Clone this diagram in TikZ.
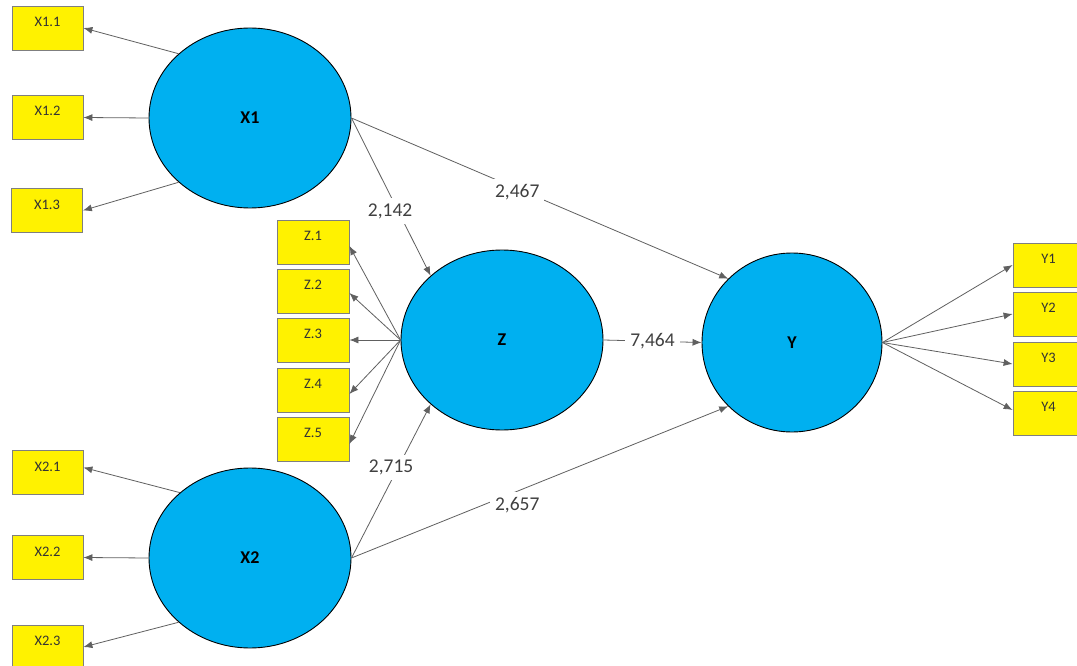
\documentclass[tikz,border=0pt]{standalone}
\usepackage{fontspec}
\setmainfont{Carlito}
\usetikzlibrary{shapes.geometric,arrows.meta}
\definecolor{latent}{HTML}{00B0F0}
\definecolor{edgegray}{HTML}{606060}
\definecolor{labgray}{HTML}{404040}
\definecolor{boxborder}{HTML}{7F7F7F}
\tikzset{
  lv/.style={ellipse,draw=black,line width=0.9pt,fill=latent,inner sep=0pt,
    minimum width=202pt,minimum height=180pt,font=\fontsize{18}{18}\selectfont\bfseries},
  mv/.style={rectangle,draw=boxborder,line width=0.8pt,fill=yellow,inner sep=0pt,
    minimum width=71pt,minimum height=44pt,text height=9.5pt,text depth=12.5pt,
    font=\fontsize{14.5}{14.5}\selectfont,text=black!80},
  arr/.style={draw=edgegray,line width=0.8pt,-{Latex[length=9pt,width=7pt]}},
  coef/.style={fill=white,inner sep=5pt,text=labgray,font=\fontsize{19.5}{19.5}\selectfont}
}
\begin{document}
\begin{tikzpicture}[x=1pt,y=-1pt]
\useasboundingbox[fill=white] (0,0) rectangle (1077,666);
% latent variables
\node[lv] (X1) at (250,118) {X1};
\node[lv] (X2) at (250,558) {X2};
\node[lv] (Z) at (502,340) {Z};
\node[lv,minimum width=180pt,minimum height=179pt] (Y) at (792,342.5) {Y};
% indicators
\node[mv] (x11) at (47.5,28) {X1.1};
\node[mv] (x12) at (47.5,117.5) {X1.2};
\node[mv] (x13) at (47,210.5) {X1.3};
\node[mv] (x21) at (47.5,472.5) {X2.1};
\node[mv] (x22) at (47.5,557.5) {X2.2};
\node[mv] (x23) at (47.5,647) {X2.3};
\node[mv,minimum width=72pt] (z1) at (313,242) {Z.1};
\node[mv,minimum width=72pt] (z2) at (313,291) {Z.2};
\node[mv,minimum width=72pt] (z3) at (313,340) {Z.3};
\node[mv,minimum width=72pt] (z4) at (313,390) {Z.4};
\node[mv,minimum width=72pt] (z5) at (313,439) {Z.5};
\node[mv] (y1) at (1048.5,265) {Y1};
\node[mv] (y2) at (1048.5,314) {Y2};
\node[mv] (y3) at (1048.5,364) {Y3};
\node[mv] (y4) at (1048.5,413) {Y4};
% outer loadings
\draw[arr] (X1.138) -- (x11.east);
\draw[arr] (X1.west) -- (x12.east);
\draw[arr] (X1.222) -- (x13.east);
\draw[arr] (X2.137) -- ([yshift=5pt]x21.east);
\draw[arr] (X2.west) -- (x22.east);
\draw[arr] (X2.222) -- (x23.east);
\draw[arr] (Z.west) -- ([yshift=-4pt]z1.east);
\draw[arr] (Z.west) -- ([yshift=-2pt]z2.east);
\draw[arr] (Z.west) -- (z3.east);
\draw[arr] (Z.west) -- ([yshift=-4pt]z4.east);
\draw[arr] (Z.west) -- ([yshift=-5pt]z5.east);
\draw[arr] (Y.east) -- (y1.west);
\draw[arr] (Y.east) -- (y2.west);
\draw[arr] (Y.east) -- (y3.west);
\draw[arr] (Y.east) -- ([yshift=3pt]y4.west);
% structural paths
\draw[arr] (X1.east) -- node[coef,pos=0.59,xshift=-8pt] {2,142} (Z.138);
\draw[arr] (X1.east) -- node[coef,pos=0.44,yshift=-3pt] {2,467} (Y.135);
\draw[arr] (Z.east) -- node[coef,pos=0.5] {7,464} (Y.west);
\draw[arr] (X2.east) -- node[coef,pos=0.59,xshift=-7pt] {2,715} (Z.222);
\draw[arr] (X2.east) -- node[coef,pos=0.44,yshift=-14pt] {2,657} (Y.225);
\end{tikzpicture}
\end{document}
